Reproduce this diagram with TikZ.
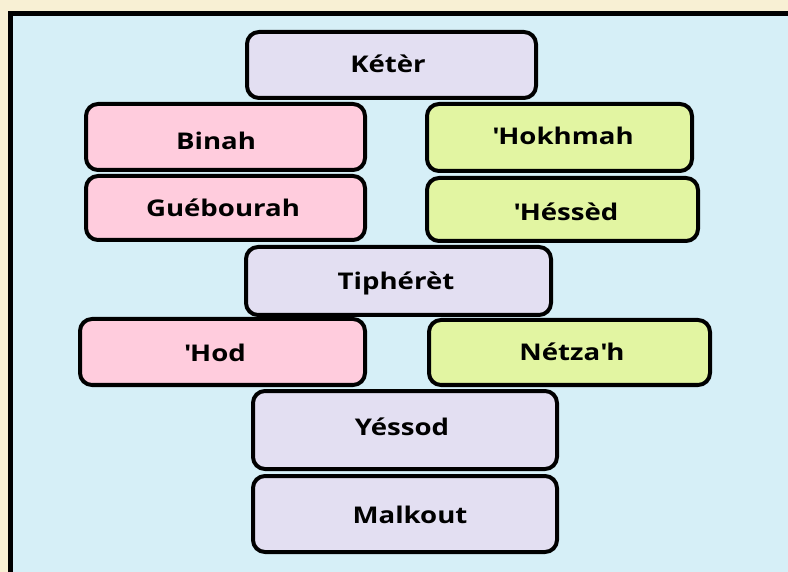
\documentclass[tikz,border=0pt]{standalone}
\usepackage{fontspec}
\setmainfont{Open Sans}[FakeStretch=1.2]
\usetikzlibrary{calc}

\definecolor{pagecream}{RGB}{248,240,212}
\definecolor{panelblue}{RGB}{214,239,247}
\definecolor{lavender}{RGB}{227,223,242}
\definecolor{rosepink}{RGB}{255,204,221}
\definecolor{limegreen}{RGB}{226,245,162}

\tikzset{
  sefira/.style={draw=black, line width=4pt, rounded corners=12pt,
    inner sep=0pt, rectangle},
  sefiratext/.style={inner sep=0pt, font=\fontsize{23}{27}\selectfont\bfseries,
    text=black}
}

% \sefira{name}{x1}{y1}{x2}{y2}{fill}{text x}{text y}{text}
\newcommand{\sefira}[9]{%
  \node[sefira, fill=#6, minimum width={#4-#2-4}, minimum height={#5-#3-4}]
    (#1) at ({(#2+#4)/2},{(#3+#5)/2}) {};
  \node[sefiratext] (#1-label) at (#7,#8) {#9};
}
\newcommand{\apos}{\textquotesingle}

\begin{document}
\begin{tikzpicture}[x=1pt,y=-1pt]
  \useasboundingbox (0,0) rectangle (788,572);
  \fill[pagecream] (0,0) rectangle (788,572);
  \begin{scope}
    \clip (0,0) rectangle (788,572);
    \draw[line width=5pt, fill=panelblue] (10.5,13.5) rectangle (820,600);
  \end{scope}

  \sefira{keter}{245}{30}{538}{100}{lavender}{388}{64}{Kétèr}
  \sefira{binah}{84}{102}{367}{172}{rosepink}{216}{141}{Binah}
  \sefira{hokhmah}{425}{102}{694}{173}{limegreen}{563}{136}{\apos Hokhmah}
  \sefira{gueburah}{84}{174}{367}{242}{rosepink}{223}{208}{Guébourah}
  \sefira{hessed}{425}{176}{700}{243}{limegreen}{566}{212}{\apos Héssèd}
  \sefira{tiferet}{244}{245}{553}{317}{lavender}{396}{283}{Tiphérèt}
  \sefira{hod}{78}{317}{367}{387}{rosepink}{215}{353}{\apos Hod}
  \sefira{netzah}{427}{318}{712}{387}{limegreen}{572}{352}{Nétza\apos h}
  \sefira{yessod}{251}{389}{559}{471}{lavender}{402}{427}{Yéssod}
  \sefira{malkout}{251}{474}{559}{554}{lavender}{410}{515}{Malkout}
\end{tikzpicture}
\end{document}
